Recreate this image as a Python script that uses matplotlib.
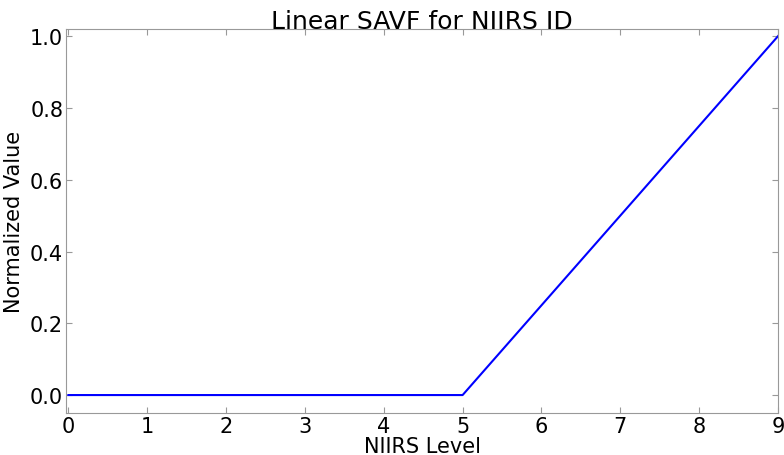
import matplotlib
matplotlib.use("Agg")
import matplotlib.pyplot as plt

# NIIRS levels and the linear SAVF values
niirs_level = [0, 1, 2, 3, 4, 5, 6, 7, 8, 9]
norm_value = [0, 0, 0, 0, 0, 0, 0.25, 0.5, 0.75, 1.0]

plt.rcParams['font.family'] = 'DejaVu Sans'

fig = plt.figure(figsize=(7.84, 4.56), dpi=100)
ax = fig.add_axes([66/784, 1 - 414/456, (778 - 66)/784, (414 - 30)/456])
ax.plot(niirs_level, norm_value, color='blue', linewidth=1.5)
ax.set_xlim(-0.03, 9)
ax.set_ylim(-0.05, 1.02)
ax.set_xticks(range(0, 10))
ax.set_yticks([0.0, 0.2, 0.4, 0.6, 0.8, 1.0])
ax.tick_params(direction='in', length=4, color='#999999', labelsize=15, pad=2,
               top=True, right=True)
for s in ax.spines.values():
    s.set_color('#999999')
ax.set_xlabel("NIIRS Level", fontsize=15, labelpad=0)
ax.set_ylabel("Normalized Value", fontsize=15, labelpad=4)
ax.set_title("Linear SAVF for NIIRS ID", fontsize=18, pad=1)

fig.savefig("out.png", dpi=100)
